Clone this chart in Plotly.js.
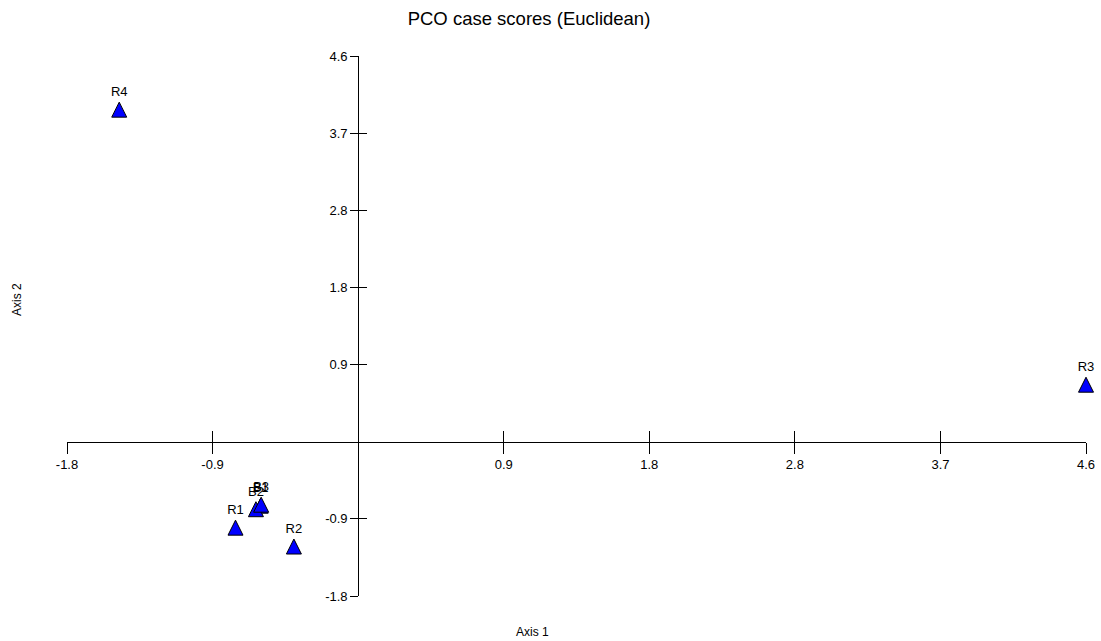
<!DOCTYPE html>
<html>
<head>
<meta charset="utf-8">
<script src="https://cdn.plot.ly/plotly-3.0.1.min.js"></script>
<style>html,body{margin:0;padding:0;background:#fff;}#chart{width:1101px;height:641px;}</style>
</head>
<body>
<div id="chart"></div>
<script>
// Case labels and PCO scores
var caseLabels = ['B1', 'B2', 'B3', 'R1', 'R2', 'R3', 'R4'];
var axis1Scores = [-0.616, -0.646, -0.613, -0.775, -0.406, 4.60, -1.51];
var axis2Scores = [-0.763, -0.805, -0.751, -1.025, -1.250, 0.68, 3.96];

// Tick positions and their printed labels
var tickValues = [-1.84, -0.92, 0.92, 1.84, 2.76, 3.68, 4.6];
var tickLabels = ['-1.8', '-0.9', '0.9', '1.8', '2.8', '3.7', '4.6'];
var axisRange = [-1.84, 4.6];

var FONT = 'Liberation Sans, Arial, sans-serif';
var zeroPos = (0 - axisRange[0]) / (axisRange[1] - axisRange[0]);

var traces = [
  {
    type: 'scatter',
    mode: 'markers+text',
    x: axis1Scores,
    y: axis2Scores,
    text: caseLabels,
    textposition: 'top center',
    textfont: {family: FONT, size: 13, color: '#000'},
    marker: {
      symbol: 'arrow-down',
      angle: 180,
      standoff: 7.5,
      size: 15,
      color: '#0000FF',
      line: {color: '#000', width: 1}
    },
    cliponaxis: false,
    hoverinfo: 'skip',
    showlegend: false,
    xaxis: 'x',
    yaxis: 'y'
  },
  {
    type: 'scatter',
    mode: 'none',
    x: axis1Scores,
    y: axis2Scores,
    hoverinfo: 'skip',
    showlegend: false,
    xaxis: 'x2',
    yaxis: 'y2'
  }
];

function baseAxis(extra) {
  var a = {
    range: axisRange,
    autorange: false,
    tickmode: 'array',
    tickvals: tickValues,
    ticktext: tickLabels,
    showgrid: false,
    zeroline: false,
    anchor: 'free',
    position: zeroPos,
    tickcolor: '#000',
    tickwidth: 1,
    tickfont: {family: FONT, size: 13, color: '#000'},
    fixedrange: true
  };
  for (var k in extra) a[k] = extra[k];
  return a;
}

var layout = {
  width: 1101,
  height: 641,
  margin: {l: 67, r: 15, t: 56, b: 45},
  paper_bgcolor: '#fff',
  plot_bgcolor: 'rgba(0,0,0,0)',
  hovermode: false,
  showlegend: false,
  title: {
    text: 'PCO case scores (Euclidean)',
    font: {family: FONT, size: 18.5, color: '#000'},
    xref: 'container', x: 529 / 1101, xanchor: 'center',
    yref: 'container', y: 1 - 19 / 641, yanchor: 'middle'
  },
  xaxis: baseAxis({showline: true, linecolor: '#000', linewidth: 1, ticks: 'outside', ticklen: 11}),
  yaxis: baseAxis({showline: true, linecolor: '#000', linewidth: 1, ticks: 'outside', ticklen: 8}),
  xaxis2: baseAxis({overlaying: 'x', showline: false, ticks: 'inside', ticklen: 11, showticklabels: false}),
  yaxis2: baseAxis({overlaying: 'y', showline: false, ticks: 'inside', ticklen: 8, showticklabels: false}),
  annotations: [
    {
      text: 'Axis 1', xref: 'paper', yref: 'paper',
      x: (532 - 67) / 1019, y: (596 - 632) / 540,
      xanchor: 'center', yanchor: 'middle', showarrow: false,
      font: {family: FONT, size: 12, color: '#000'}
    },
    {
      text: 'Axis 2', xref: 'paper', yref: 'paper',
      x: (17 - 67) / 1019, y: (596 - 300) / 540,
      xanchor: 'center', yanchor: 'middle', showarrow: false, textangle: -90,
      font: {family: FONT, size: 12, color: '#000'}
    }
  ]
};

Plotly.newPlot('chart', traces, layout, {displayModeBar: false, staticPlot: true});
</script>
</body>
</html>
